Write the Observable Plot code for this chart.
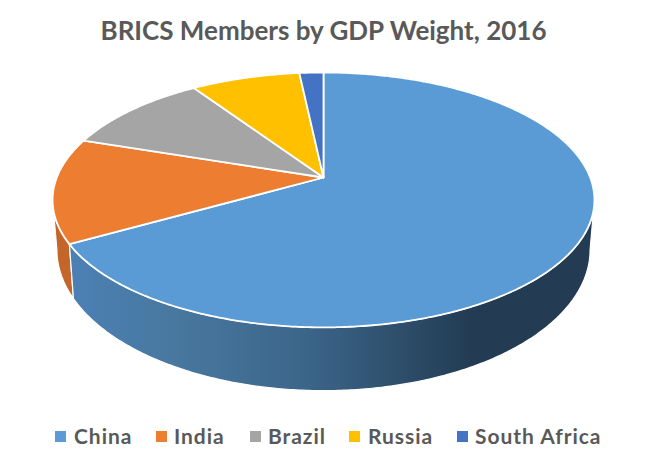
<!DOCTYPE html>
<html>
<head>
<meta charset="utf-8">
<script src="https://cdn.jsdelivr.net/npm/d3@7"></script>
<script src="https://cdn.jsdelivr.net/npm/@observablehq/plot@0.6"></script>
<style>
  html, body { margin: 0; padding: 0; background: #fff; overflow: hidden; }
  body { width: 645px; height: 465px; font-family: Lato, "Open Sans", sans-serif; color: #595959; }
  #title { height: 58px; line-height: 60px; text-align: center; font-size: 26px; font-weight: 700; padding-left: 2px; box-sizing: border-box; }
  #chart svg { display: block; }
  #legend { position: relative; height: 50px; font-size: 21px; font-weight: 700; letter-spacing: 0.95px; }
  #legend span { position: absolute; top: 8px; line-height: 26px; white-space: nowrap; }
  #legend i { position: absolute; top: 16px; width: 11px; height: 11px; }
</style>
</head>
<body>
<div id="title">BRICS Members by GDP Weight, 2016</div>
<div id="chart"></div>
<div id="legend"></div>
<script>
const chartTitle = "BRICS Members by GDP Weight, 2016";
const members = ["China", "India", "Brazil", "Russia", "South Africa"];
const weights = [66.8, 13.3, 10.5, 7.7, 1.7];
const colors = ["#5b9bd5", "#ed7d31", "#a5a5a5", "#ffc000", "#4472c4"];
const legendSquares = [55, 156, 250, 349, 457];
const legendLabels = [74, 174, 268, 368, 475];

// Perspective view of the tilted disc
const apexX = 323, apexY = 177, radiusX = 266.7, radiusY = 123.5, tilt = 0.176;
const baseScale = 0.984, baseStretch = 1.105, baseY = 224.5;
const plotTop = 58, plotHeight = 357, plotWidth = 645;

function rim(t) {
  const u = Math.sin(t), v = -Math.cos(t), d = 1 - tilt * v;
  return [radiusX * u / d, radiusY * v / d];
}
const topPoint = t => { const [a, b] = rim(t); return [apexX + a, apexY + b]; };
const basePoint = t => { const [a, b] = rim(t); return [apexX + a * baseScale, baseY + b * baseStretch]; };
function sweep(a, b) {
  const n = Math.max(2, Math.ceil((b - a) / 0.01));
  return d3.range(n + 1).map(i => a + (b - a) * i / n);
}

const arcs = d3.pie().sort(null).value(d => d)(weights);
const faces = arcs.flatMap((s, i) => [
  {name: members[i], x: apexX, y: apexY},
  ...sweep(s.startAngle, s.endAngle).map(t => {
    const [x, y] = topPoint(t);
    return {name: members[i], x, y};
  })
]);
// Only the front of the side wall shows: it runs between the disc's two widest points
const widest = Math.acos(-tilt);
function wall(i) {
  const ts = sweep(Math.max(arcs[i].startAngle, widest), Math.min(arcs[i].endAngle, 2 * Math.PI - widest));
  return [
    ...ts.map(t => { const [x, y] = topPoint(t); return {x, y}; }),
    ...ts.slice().reverse().map(t => { const [x, y] = basePoint(t); return {x, y}; })
  ];
}

const defs = () => {
  const s = d3.create("svg:g");
  const g = s.append("defs").append("linearGradient")
    .attr("id", "chinaWall").attr("x1", 0).attr("x2", 1).attr("y1", 0).attr("y2", 0);
  [[0, "#4c80b5"], [0.2, "#48789f"], [0.45, "#3c658a"], [0.6, "#305270"], [0.76, "#233c54"], [1, "#233c54"]]
    .forEach(([o, c]) => g.append("stop").attr("offset", o).attr("stop-color", c));
  return s.node();
};

const svg = Plot.plot({
  width: plotWidth, height: plotHeight,
  margin: 0,
  x: {domain: [0, plotWidth], range: [0, plotWidth], axis: null},
  y: {domain: [plotTop, plotTop + plotHeight], range: [0, plotHeight], axis: null},
  color: {domain: members, range: colors},
  marks: [
    defs,
    Plot.line(wall(1), {x: "x", y: "y", curve: "linear-closed", fill: "#c4662a", stroke: "white", strokeWidth: 1.2}),
    Plot.line(wall(0), {x: "x", y: "y", curve: "linear-closed", fill: "url(#chinaWall)", stroke: "white", strokeWidth: 1.2}),
    Plot.line(faces, {x: "x", y: "y", z: "name", curve: "linear-closed", fill: "name", stroke: "white", strokeWidth: 1.8})
  ]
});
document.getElementById("chart").append(svg);

const legend = d3.select("#legend");
members.forEach((m, i) => {
  legend.append("i").style("left", legendSquares[i] + "px").style("background", colors[i]);
  legend.append("span").style("left", legendLabels[i] + "px").text(m);
});
document.getElementById("title").textContent = chartTitle;
</script>
</body>
</html>
